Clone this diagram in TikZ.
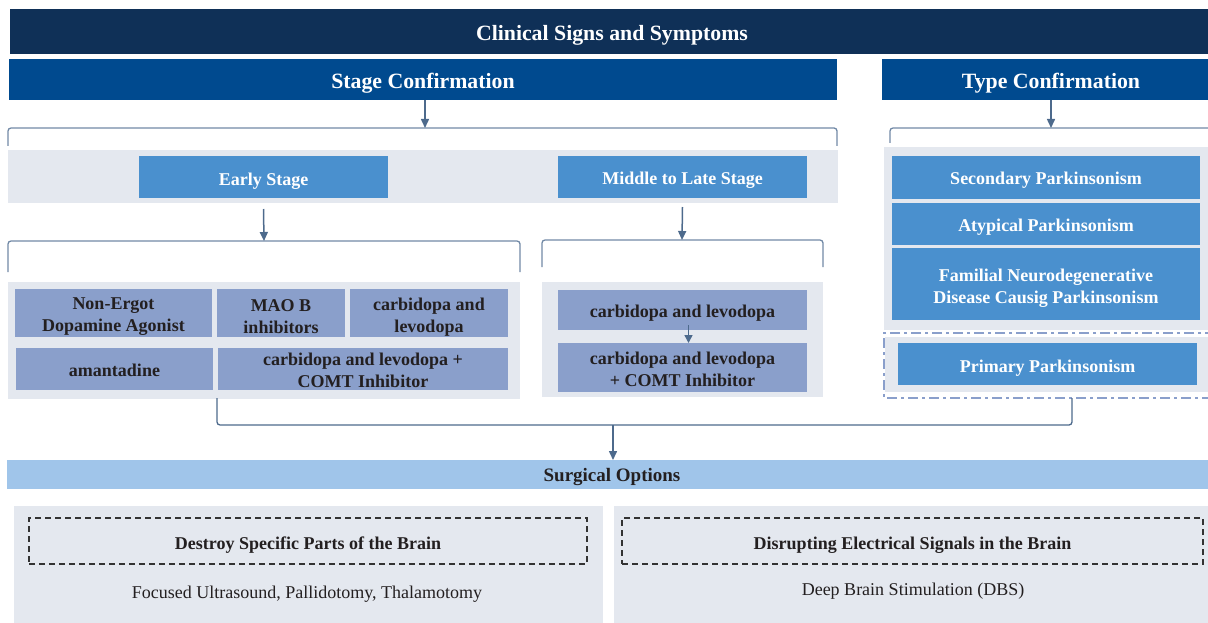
\documentclass[tikz,border=0pt]{standalone}
\usepackage{fontspec}
\setmainfont{Liberation Serif}
\usetikzlibrary{arrows.meta}
\definecolor{navy}{HTML}{0F3057}
\definecolor{deepblue}{HTML}{004A8F}
\definecolor{midblue}{HTML}{4A90CE}
\definecolor{lavblue}{HTML}{8A9FCB}
\definecolor{skyblue}{HTML}{A0C5EA}
\definecolor{panelgray}{HTML}{E4E8EF}
\definecolor{linkcol}{HTML}{4D6A8C}
\definecolor{bracketcol}{HTML}{7189A6}
\definecolor{inktext}{HTML}{231F20}
\definecolor{dashcol}{HTML}{333333}

\begin{document}
\begin{tikzpicture}[x=1pt,y=-1pt,
  every node/.style={inner sep=0pt, outer sep=0pt, align=center},
  box/.style={anchor=north west, minimum width=#1},
  % text is placed as a centred label, set slightly below the box centre
  headtext/.style={yshift=-4pt, text=white, font=\fontsize{21.8}{24}\selectfont\bfseries},
  whitetext/.style={yshift=-4pt, text=white, font=\fontsize{18}{22}\selectfont\bfseries},
  darktext/.style={yshift=-4pt, text=inktext, font=\fontsize{18}{22}\selectfont\bfseries},
  header/.style={fill=#1},
  stagebox/.style={fill=midblue},
  drugbox/.style={fill=lavblue},
  panel/.style={fill=panelgray, anchor=north west},
  dashbox/.style={draw=dashcol, line width=1.2pt, dash pattern=on 6pt off 4pt, anchor=north west},
  plain/.style={text=inktext, font=\fontsize{18}{22}\selectfont},
  bracket/.style={draw=bracketcol, line width=1.3pt, rounded corners=3pt},
  link/.style={draw=linkcol, line width=1.5pt, -{Triangle[length=9pt,width=8pt]}},
]
\useasboundingbox (0,0) rectangle (1208,623);

% ---- headers
\node[header=navy, box=1204pt, minimum height=45pt,
  label={[headtext]center:Clinical Signs and Symptoms}] (top) at (10,9) {};
\node[header=deepblue, box=828pt, minimum height=41pt,
  label={[headtext]center:Stage Confirmation}] (stage) at (9,59) {};
\node[header=deepblue, box=338pt, minimum height=41pt,
  label={[headtext]center:Type Confirmation}] (type) at (882,59) {};

% ---- stage branch
\coordinate (b1) at (425,128);
\draw[bracket] (8,146) -- (8,128) -- (837,128) -- (837,146);
\draw[link] (stage.south -| b1) -- (b1);

\node[panel, minimum width=830pt, minimum height=53pt] (band) at (8,150) {};
\node[stagebox, box=249pt, minimum height=42pt,
  label={[whitetext]center:Early Stage}] (early) at (139,156) {};
\node[stagebox, box=249pt, minimum height=42pt,
  label={[whitetext, yshift=1pt]center:Middle to Late Stage}] (late) at (558,156) {};

\coordinate (b2) at (264,241);
\draw[bracket] (8,272) -- (8,241) -- (520,241) -- (520,272);
\draw[link] ([yshift=-11pt]early.south) -- (b2);

\coordinate (b3) at (682,240);
\draw[bracket] (542,267) -- (542,240) -- (823,240) -- (823,267);
\draw[link] ([yshift=-9pt]late.south) -- (b3);

% ---- early stage drugs
\node[panel, minimum width=512pt, minimum height=117pt] (earlypanel) at (8,282) {};
\node[drugbox, box=197pt, minimum height=48pt,
  label={[darktext]center:{Non-Ergot\\Dopamine Agonist}}] (nonergot) at (15,289) {};
\node[drugbox, box=128pt, minimum height=48pt,
  label={[darktext]center:{MAO B\\inhibitors}}] (maob) at (217,289) {};
\node[drugbox, box=158pt, minimum height=48pt,
  label={[darktext]center:{carbidopa and\\levodopa}}] (cl) at (350,289) {};
\node[drugbox, box=197pt, minimum height=42pt,
  label={[darktext, yshift=3pt]center:amantadine}] (amant) at (16,348) {};
\node[drugbox, box=290pt, minimum height=42pt,
  label={[darktext, yshift=3pt]center:{carbidopa and levodopa +\\COMT Inhibitor}}] (clcomt) at (218,348) {};

% ---- middle to late stage drugs
\node[panel, minimum width=281pt, minimum height=115pt] (latepanel) at (542,282) {};
\node[drugbox, box=249pt, minimum height=40pt,
  label={[darktext, yshift=1pt]center:carbidopa and levodopa}] (lcl) at (558,290) {};
\node[drugbox, box=249pt, minimum height=49pt,
  label={[darktext, yshift=2pt]center:{carbidopa and levodopa\\+ COMT Inhibitor}}] (lclcomt) at (558,343) {};
\draw[link, -{Triangle[length=8pt,width=8pt]}] ([xshift=6pt,yshift=5pt]lcl.south) -- ([xshift=6pt]lclcomt.north);

% ---- type branch
\coordinate (b4) at (1051,128);
\draw[bracket] (890,143) -- (890,128) -- (1215,128);
\draw[link] (type.south -| b4) -- (b4);

\node[panel, minimum width=331pt, minimum height=183pt] (typepanel) at (884,147) {};
\node[stagebox, box=308pt, minimum height=43pt,
  label={[whitetext, yshift=1pt]center:Secondary Parkinsonism}] (secondary) at (892,156) {};
\node[stagebox, box=308pt, minimum height=42pt,
  label={[whitetext, yshift=1pt]center:Atypical Parkinsonism}] (atypical) at (892,203) {};
\node[stagebox, box=308pt, minimum height=72pt,
  label={[whitetext]center:{Familial Neurodegenerative\\Disease Causig Parkinsonism}}] (familial) at (892,248) {};

\fill[panelgray] (885,337) rectangle (1215,392);
\draw[lavblue, line width=2pt, dash pattern=on 10pt off 4pt on 3pt off 4pt] (1215,333) -- (884,333) -- (884,398) -- (1215,398);
\node[stagebox, box=299pt, minimum height=42pt,
  label={[whitetext]center:Primary Parkinsonism}] (primary) at (898,343) {};

% ---- surgical options
\node[fill=skyblue, box=1210pt, minimum height=29pt,
  label={[darktext, yshift=1pt, font=\fontsize{19}{22}\selectfont\bfseries]center:Surgical Options}] (surg) at (7,460) {};
\coordinate (b5) at (613,425);
\draw[bracket, draw=linkcol] (217,398) -- (217,425) -- (1072,425) -- (1072,398);
\draw[link] (b5) -- (surg.north -| b5);

\node[panel, minimum width=589pt, minimum height=120pt] (leftsurg) at (14,506) {};
\node[panel, minimum width=600pt, minimum height=120pt] (rightsurg) at (614,506) {};
\node[dashbox, minimum width=558pt, minimum height=46pt,
  label={[darktext]center:Destroy Specific Parts of the Brain}] (destroy) at (29,518) {};
\node[dashbox, minimum width=581pt, minimum height=46pt,
  label={[darktext]center:Disrupting Electrical Signals in the Brain}] (disrupt) at (622,518) {};
\node[plain] (focused) at (307,594) {Focused Ultrasound, Pallidotomy, Thalamotomy};
\node[plain] (dbs) at (913,591) {Deep Brain Stimulation (DBS)};
\end{tikzpicture}
\end{document}
